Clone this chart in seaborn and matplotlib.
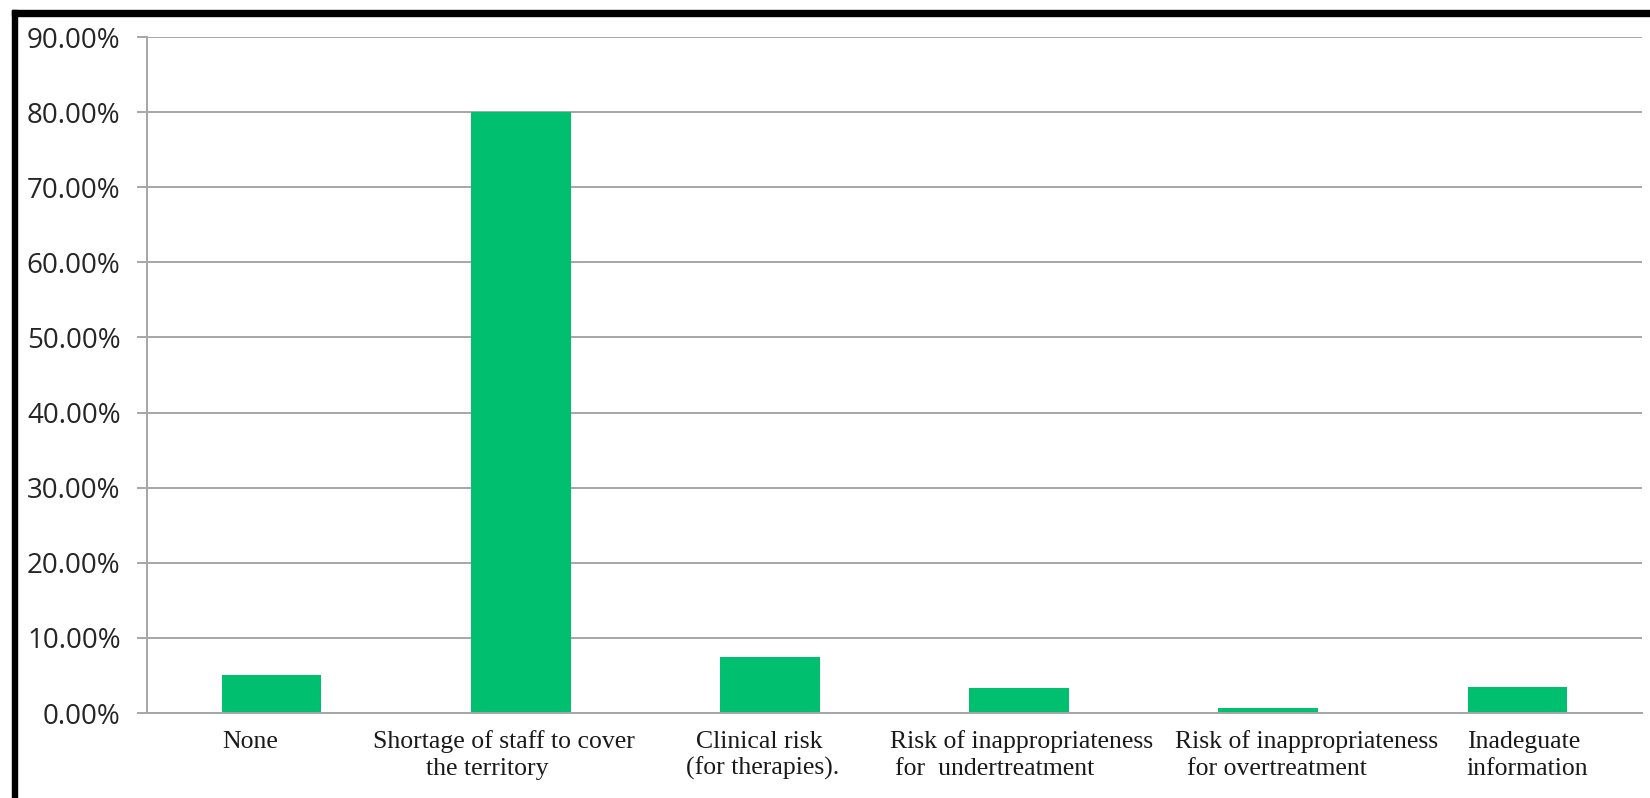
import matplotlib
matplotlib.use("Agg")
import matplotlib.pyplot as plt
from matplotlib.patches import Rectangle
from matplotlib.ticker import FuncFormatter
import seaborn as sns
import pandas as pd

categories = [
    "None",
    "Shortage of staff to cover\nthe territory",
    "Clinical risk\n(for therapies).",
    "Risk of inappropriateness\nfor  undertreatment",
    "Risk of inappropriateness\nfor overtreatment",
    "Inadeguate\ninformation",
]
percentages = [5.0, 80.0, 7.4, 3.3, 0.7, 3.4]
y_ticks = [0, 10, 20, 30, 40, 50, 60, 70, 80, 90]

# horizontal nudge (pixels) of each label line relative to its bar centre
line_nudges = [[-21], [-17, -34], [-11, -7], [2, -24], [38, 9], [6, 10]]

df = pd.DataFrame({"category": categories, "share": percentages})

sns.set_theme(style="white")
plt.rcParams["font.family"] = ["Open Sans", "DejaVu Sans"]

fig = plt.figure(figsize=(16.5, 7.98), dpi=100)
ax = fig.add_axes([147 / 1650, 1 - 713 / 798, (1642 - 147) / 1650, (713 - 37) / 798])

grid_color = "#a6a6a6"
ax.set_ylim(0, 90)
ax.set_yticks(y_ticks)
ax.yaxis.grid(True, color=grid_color, linewidth=1.4)
ax.set_axisbelow(True)

sns.barplot(data=df, x="category", y="share", color="#00bf6f", width=0.4,
            saturation=1, ax=ax, edgecolor="none")

ax.set_xlim(-0.5, len(categories) - 0.5)
ax.set_xlabel("")
ax.set_ylabel("")
ax.yaxis.set_major_formatter(FuncFormatter(lambda v, _: f"{v:.2f}%"))

for side in ("top", "right"):
    ax.spines[side].set_visible(False)
for side in ("left", "bottom"):
    ax.spines[side].set_color(grid_color)
    ax.spines[side].set_linewidth(1.4)

ax.tick_params(axis="y", which="major", length=7, width=1.4, color=grid_color,
               left=True, pad=12, labelsize=20, labelcolor="#262626")
ax.tick_params(axis="x", length=0, labelbottom=False)

# Category labels, one line at a time, in a serif face
for i, (label, nudges) in enumerate(zip(categories, line_nudges)):
    for j, (line, dx) in enumerate(zip(label.split("\n"), nudges)):
        ax.annotate(line, xy=(i, 0), xycoords=("data", "axes fraction"),
                    xytext=(dx, -35 - 27 * j), textcoords="offset pixels",
                    ha="center", va="baseline", fontsize=18.5,
                    fontfamily="Liberation Serif", color="#1a1a1a",
                    annotation_clip=False)

# Black frame along the left and top edges of the figure
fig.patches.append(Rectangle((12 / 1650, 0), 5 / 1650, 1 - 10 / 798,
                             transform=fig.transFigure, color="black", zorder=10))
fig.patches.append(Rectangle((12 / 1650, 1 - 16 / 798), 1 - 12 / 1650, 6 / 798,
                             transform=fig.transFigure, color="black", zorder=10))

fig.savefig("out.png", dpi=100, facecolor="white")
